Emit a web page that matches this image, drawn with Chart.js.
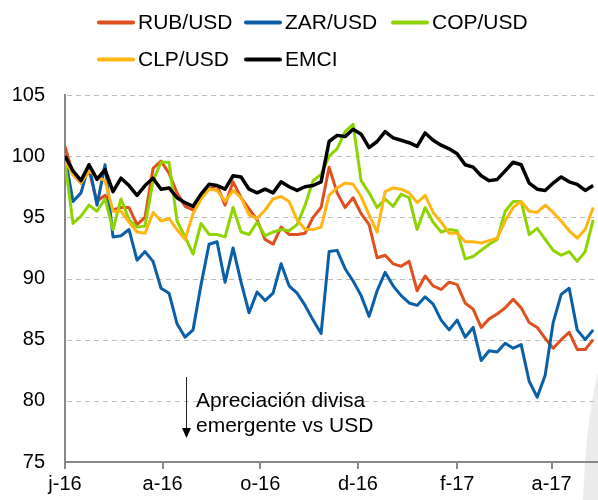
<!DOCTYPE html>
<html>
<head>
<meta charset="utf-8">
<script src="https://cdn.jsdelivr.net/npm/chart.js@4.4.1/dist/chart.umd.min.js"></script>
<style>
body { margin: 0; background: #fff; }
#wrap { width: 598px; height: 500px; }
</style>
</head>
<body>
<div id="wrap"><canvas id="myChart" width="598" height="500"></canvas></div>
<script>
// days since 1 Jun 2016
var days = [0,5,10,15,20,25,30,35,40,45,50,55,60,65,70,75,80,85,90,95,100,105,110,115,120,125,130,135,140,145,150,155,160,165,170,175,180,185,190,195,200,205,210,215,220,225,230,235,240,245,250,255,260,265,270,275,280,285,290,295,300,305,310,315,320,325,330];

var rub = [100.8,98.5,97.8,98.8,96.3,96.8,95.6,95.8,95.8,94.4,
  95.0,99.0,99.6,98.6,97.0,95.9,95.6,96.6,97.3,97.6,
  96.0,97.9,96.6,95.7,94.8,93.2,92.8,94.2,93.6,93.6,
  93.7,95.0,95.8,99.1,97.0,95.8,96.6,95.3,94.4,91.7,
  91.9,91.2,91.0,91.4,89.0,90.2,89.4,89.1,89.7,89.5,
  88.0,87.5,86.0,86.7,87.1,87.6,88.3,87.6,86.4,86.0,
  85.1,84.3,85.0,85.6,84.2,84.2,85.0];
var zar = [100.0,96.3,97.0,99.3,96.0,99.3,93.4,93.5,94.0,91.5,
  92.2,91.4,89.2,88.8,86.3,85.2,85.8,89.5,92.8,93.0,
  89.7,92.5,89.7,87.2,88.9,88.2,88.8,91.2,89.4,88.8,
  87.8,86.6,85.5,92.2,92.3,90.8,89.8,88.6,86.9,89.0,
  90.5,89.4,88.6,88.0,87.8,88.5,87.9,86.6,85.8,86.6,
  85.2,86.0,83.3,84.1,84.0,84.7,84.3,84.6,81.6,80.3,
  82.1,86.4,88.7,89.2,85.8,85.0,85.8];
var cop = [99.5,94.5,95.1,96.0,95.5,96.5,94.0,96.5,94.8,94.2,
  94.3,98.0,99.5,99.5,94.7,93.4,92.0,94.5,93.6,93.6,
  93.4,95.8,93.8,93.6,94.6,93.5,93.8,94.0,93.9,94.4,
  96.0,98.0,98.5,100.0,100.6,102.0,102.6,98.0,97.0,95.8,
  96.5,95.9,96.9,96.6,94.0,95.8,94.6,93.8,94.0,93.9,
  91.6,91.8,92.3,92.8,93.2,95.5,96.3,96.3,93.6,94.1,
  93.2,92.3,91.9,92.2,91.4,92.2,94.8];
var clp = [99.6,98.5,97.8,98.8,98.3,98.0,95.5,95.5,94.6,93.8,
  93.7,95.4,94.7,94.9,94.0,93.2,95.3,96.5,97.3,97.2,
  96.3,97.2,96.6,95.2,94.9,95.6,96.5,96.7,96.3,94.8,
  94.0,94.0,94.2,96.8,97.4,97.8,97.7,96.7,95.2,93.8,
  97.1,97.4,97.3,97.0,96.2,96.8,95.4,94.6,93.7,93.7,
  93.0,93.0,92.9,93.1,93.3,94.7,95.8,96.3,95.5,95.4,
  96.0,95.4,94.7,93.9,93.3,94.0,95.8];
var emci = [100.0,98.8,98.0,99.3,98.1,98.9,97.1,98.2,97.6,96.8,
  97.6,98.2,97.3,97.4,96.6,96.2,95.9,96.9,97.7,97.6,
  97.3,98.4,98.3,97.3,97.0,97.3,97.0,97.9,97.5,97.2,
  97.5,97.6,97.9,101.2,101.7,101.6,102.2,101.8,100.7,101.2,
  102.0,101.5,101.3,101.1,100.8,101.9,101.3,100.9,100.6,100.2,
  99.3,99.1,98.4,98.0,98.1,98.8,99.5,99.3,97.8,97.3,
  97.2,97.8,98.3,97.9,97.7,97.2,97.6];

var tickDays = [0, 61, 122, 183, 245, 304];
var tickLabels = ["j-16", "a-16", "o-16", "d-16", "f-17", "a-17"];
var gridValues = [80, 85, 90, 95, 100, 105];

var fontFam = 'Arial, "Liberation Sans", sans-serif';
Chart.defaults.font.family = fontFam;
Chart.defaults.color = '#000';

function pts(vals) {
  return vals.map(function(v, i) { return { x: days[i], y: v }; });
}

var extras = {
  id: 'extras',
  beforeDraw: function(chart) {
    var c = chart.ctx;
    // grey page shadow bottom right
    c.save();
    c.fillStyle = '#ececec';
    c.beginPath();
    c.moveTo(598, 372);
    c.quadraticCurveTo(586, 420, 583, 500);
    c.lineTo(598, 500);
    c.closePath();
    c.fill();
    c.restore();
  },
  beforeDatasetsDraw: function(chart) {
    // dashed horizontal gridlines
    var c = chart.ctx, a = chart.chartArea, ys = chart.scales.y;
    c.save();
    c.strokeStyle = '#bdbdbd';
    c.lineWidth = 1;
    c.setLineDash([5, 4]);
    gridValues.forEach(function(v) {
      var y = Math.round(ys.getPixelForValue(v)) + 0.5;
      c.beginPath();
      c.moveTo(a.left + 2, y);
      c.lineTo(a.right, y);
      c.stroke();
    });
    c.restore();
  },
  afterDraw: function(chart) {
    var c = chart.ctx;
    c.save();
    // legend
    var lx = [97, 244, 391, 97, 244];
    var ly = [22.5, 22.5, 22.5, 59.5, 59.5];
    c.font = '21px ' + fontFam;
    c.textBaseline = 'middle';
    chart.data.datasets.forEach(function(ds, i) {
      c.strokeStyle = ds.borderColor;
      c.lineWidth = 4;
      c.lineCap = 'round';
      c.beginPath();
      c.moveTo(lx[i] + 2, ly[i]);
      c.lineTo(lx[i] + 36, ly[i]);
      c.stroke();
      c.fillStyle = '#000';
      c.fillText(ds.label, lx[i] + 41, ly[i] + 1);
    });
    // annotation
    c.strokeStyle = '#222';
    c.lineWidth = 1;
    c.lineCap = 'butt';
    c.beginPath();
    c.moveTo(186.5, 377);
    c.lineTo(186.5, 430);
    c.stroke();
    c.fillStyle = '#000';
    c.beginPath();
    c.moveTo(182, 428);
    c.lineTo(191, 428);
    c.lineTo(186.5, 438);
    c.closePath();
    c.fill();
    c.textBaseline = 'alphabetic';
    c.font = '21px ' + fontFam;
    c.fillText('Apreciación divisa', 196, 407);
    c.fillText('emergente vs USD', 196, 432);
    c.restore();
  }
};

var ctx = document.getElementById("myChart");
var myChart = new Chart(ctx, {
  type: 'line',
  data: {
    datasets: [
      { label: 'RUB/USD', data: pts(rub), borderColor: '#e0501e', order: 4 },
      { label: 'ZAR/USD', data: pts(zar), borderColor: '#0b5ea8', order: 3 },
      { label: 'COP/USD', data: pts(cop), borderColor: '#8fd400', order: 2 },
      { label: 'CLP/USD', data: pts(clp), borderColor: '#ffb612', order: 1 },
      { label: 'EMCI', data: pts(emci), borderColor: '#000000', order: 0, borderWidth: 3.5 }
    ]
  },
  options: {
    responsive: false,
    animation: false,
    layout: { padding: { top: 95, right: 0, left: 0, bottom: 0 } },
    elements: {
      line: { borderWidth: 3, tension: 0, fill: false, borderJoinStyle: 'round' },
      point: { radius: 0 }
    },
    plugins: {
      legend: { display: false },
      tooltip: { enabled: false },
      title: { display: false }
    },
    scales: {
      x: {
        type: 'linear',
        min: 0,
        max: 333,
        afterBuildTicks: function(axis) {
          axis.ticks = tickDays.map(function(v) { return { value: v }; });
        },
        afterFit: function(axis) { axis.height = 38; },
        ticks: {
          autoSkip: false,
          maxRotation: 0,
          padding: 3,
          font: { size: 20 },
          callback: function(v, i) { return tickLabels[i]; }
        },
        grid: { drawOnChartArea: false, drawTicks: true, tickLength: 7, color: '#888', lineWidth: 2 },
        border: { display: true, color: '#888', width: 2 }
      },
      y: {
        min: 75,
        max: 105,
        afterFit: function(axis) { axis.width = 65; },
        ticks: { stepSize: 5, padding: 20, font: { size: 20 } },
        grid: { display: false, drawTicks: false },
        border: { display: true, color: '#888', width: 2 }
      }
    }
  },
  plugins: [extras]
});
</script>
</body>
</html>
